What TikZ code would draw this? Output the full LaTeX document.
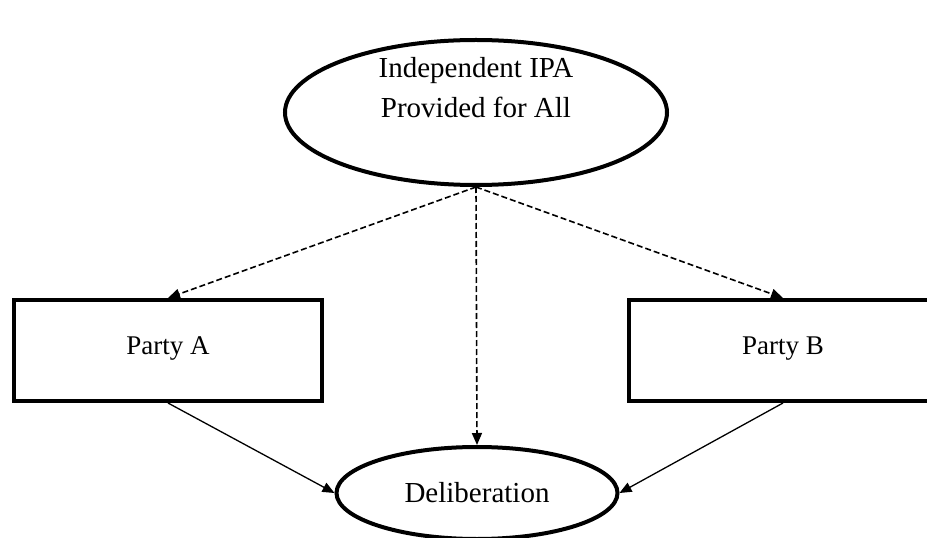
\documentclass[tikz,border=0pt]{standalone}
\usepackage{fontspec}
\setmainfont{Liberation Serif}
\usetikzlibrary{shapes.geometric}
\usetikzlibrary{arrows.meta}
\definecolor{borderColor}{HTML}{000000}
\definecolor{linkColor}{HTML}{000000}
\definecolor{bgColor}{HTML}{FFFFFF}
\def\textTop{Independent IPA\\Provided for All}
\def\textLeft{Party A}
\def\textRight{Party B}
\def\textBottom{Deliberation}

\begin{document}
\begin{tikzpicture}[x=1bp,y=-1bp,
  font=\fontsize{27bp}{39bp}\selectfont,
  bigFont/.style={font=\fontsize{29bp}{40bp}\selectfont},
  thickEllipse/.style={ellipse, draw=borderColor, line width=4bp, inner sep=0pt, bigFont},
  thickBox/.style={rectangle, draw=borderColor, line width=4bp,
    minimum width=308bp, minimum height=101bp, text height=0.85em, text depth=0pt},
  link/.style={color=linkColor, line width=1.3bp, -{Triangle[length=12bp,width=10bp]}},
  dashLink/.style={link, line width=1.6bp, dash pattern=on 6bp off 3bp}]

% page
\useasboundingbox (0, 0) rectangle (927, 538);
\fill[bgColor] (0, 0) rectangle (927, 538);
\clip (0, 0) rectangle (927, 538);

% shape layer
\begin{scope}
\node[thickEllipse, minimum width=382bp, minimum height=145bp] (ipa) at (476, 112.5) {};
\node[align=center, bigFont] (ipaText) at (476, 88) {\textTop};
\node[thickBox] (partyA) at (168, 350.5) {\textLeft};
\node[thickBox] (partyB) at (783, 350.5) {\textRight};
\node[thickEllipse, minimum width=281bp, minimum height=92bp] (delib) at (477, 493) {\textBottom};
\end{scope}

% link layer
\begin{scope}
\draw[dashLink] (ipa.south) -- (partyA.north);
\draw[dashLink] (ipa.south) -- (delib.north);
\draw[dashLink] (ipa.south) -- (partyB.north);
\draw[link] (partyA.south) -- (delib.west);
\draw[link] (partyB.south) -- (delib.east);
\end{scope}

\end{tikzpicture}
\end{document}
